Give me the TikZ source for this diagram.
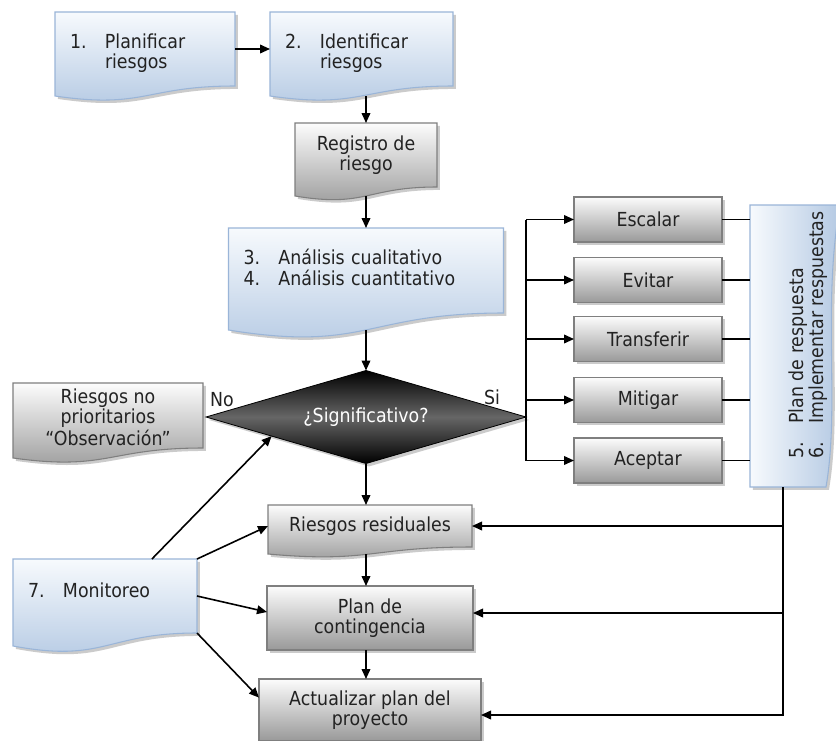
\documentclass[tikz,border=0pt]{standalone}
\usepackage{fontspec}
\setmainfont[FakeStretch=0.9]{DejaVu Sans}
\usetikzlibrary{arrows.meta,shapes.geometric,shadows,calc,backgrounds}
\definecolor{bluetop}{HTML}{F7FAFD}
\definecolor{bluebot}{HTML}{B4C9E3}
\definecolor{blueline}{HTML}{9AB5D8}
\definecolor{graytop}{HTML}{FCFCFC}
\definecolor{graybot}{HTML}{999999}
\definecolor{grayline}{HTML}{7F7F7F}
\definecolor{txt}{HTML}{222222}
\newcommand\fsz{\fontsize{14.5}{15}\selectfont}
\newcommand\docpath[3]{\path[#2] (#1.north west) -- (#1.north east) -- (#1.south east)
  .. controls (#1.south) and ($(#1.south)+(0,2.32*#3)$) .. ($(#1.south west)+(0,#3)$) -- cycle;}
\newcommand\numit[1]{\makebox[26.25pt][l]{#1}}
\tikzset{
  lbl/.style={font=\fsz, text=txt, inner sep=0pt},
  docnode/.style={rectangle, draw=none, outer sep=0pt, inner xsep=11.25pt, inner ysep=0pt, font=\fsz, text=txt},
  myshadow/.style={drop shadow={shadow xshift=2.2pt, shadow yshift=-2.2pt, fill=black!45, opacity=0.45}},
  bluefill/.style={draw=blueline, line width=0.8pt, top color=bluetop, bottom color=bluebot, myshadow},
  grayfill/.style={draw=grayline, line width=0.8pt, top color=graytop, bottom color=graybot, myshadow},
  planfill/.style={draw=blueline, line width=0.8pt, left color=bluetop, right color=bluebot, myshadow},
  grect/.style={rectangle, outer sep=0pt, grayfill, font=\fsz, text=txt, align=center, inner sep=0pt},
  arr/.style={draw=black, line width=1.2pt, -{Triangle[length=7.5pt,width=6.5pt]}},
  ln/.style={draw=black, line width=1.2pt},
}
\begin{document}
\begin{tikzpicture}[x=0.75pt,y=-0.75pt]
\useasboundingbox (0,0) rectangle (836,740);
% nodes
\node[docnode, minimum width=135pt, minimum height=55.5pt, text width=112.5pt, align=left] (n1) at (145,49)
  {\raisebox{-3.75pt}[\height][\depth]{\begin{tabular}{@{}l@{}}\numit{1.}Planificar\\\hspace*{26.25pt}riesgos\end{tabular}}};
\node[docnode, minimum width=137.25pt, minimum height=55.5pt, text width=114.75pt, align=left] (n2) at (361.5,49)
  {\raisebox{-3.75pt}[\height][\depth]{\begin{tabular}{@{}l@{}}\numit{2.}Identificar\\\hspace*{26.25pt}riesgos\end{tabular}}};
\node[docnode, minimum width=106.5pt, minimum height=48pt, align=center] (reg) at (366,155) {Registro de\\riesgo};
\node[docnode, minimum width=206.25pt, minimum height=63.75pt, text width=183.75pt, align=left] (ana) at (366,270.5)
  {\begin{tabular}{@{}l@{}}\numit{3.}Análisis cualitativo\\\numit{4.}Análisis cuantitativo\end{tabular}};
\node[diamond, minimum width=240pt, minimum height=69.75pt, shape aspect=3.44, inner sep=0pt, outer sep=0pt,
  draw=black, line width=0.6pt, top color=black, bottom color=black, middle color=black!60, myshadow,
  font=\fsz, text=white] (dia) at (366,417) {\raisebox{2pt}{¿Significativo?}};
\node[docnode, minimum width=142.5pt, minimum height=48.75pt, align=center] (nopr) at (108,415.5)
  {\raisebox{-3.4pt}[\height][\depth]{\begin{tabular}{@{}c@{}}Riesgos no\\prioritarios\\“Observación”\end{tabular}}};
\node[lbl] (no) at (222,400) {No};
\node[lbl] (si) at (492,397) {Si};
\node[grect, minimum width=111pt, minimum height=33.75pt] (esc) at (648,219.5) {Escalar};
\node[grect, minimum width=111pt, minimum height=33.75pt] (evi) at (648,280) {Evitar};
\node[grect, minimum width=111pt, minimum height=33.75pt] (tra) at (648,339) {Transferir};
\node[grect, minimum width=111pt, minimum height=33.75pt] (mit) at (648,400) {Mitigar};
\node[grect, minimum width=111pt, minimum height=33.75pt] (ace) at (648,460.5) {Aceptar};
\node[docnode, minimum width=57pt, minimum height=211.5pt] (plan) at (788,346) {};
\node[lbl, rotate=90] (plantxt) at (809,335)
  {\begin{tabular}{@{}l@{}}\numit{5.}Plan de respuesta\\\numit{6.}Implementar respuestas\end{tabular}};
\node[docnode, minimum width=153pt, minimum height=31.5pt] (rr) at (370,526) {Riesgos residuales};
\node[grect, minimum width=154.5pt, minimum height=48pt] (cont) at (370,618) {Plan de\\contingencia};
\node[grect, minimum width=166.5pt, minimum height=46.5pt] (act) at (370,710) {Actualizar plan del\\proyecto};
\node[docnode, minimum width=138pt, minimum height=55.5pt, text width=115.5pt, align=left] (mon) at (105,596)
  {\raisebox{4.5pt}[\height][\depth]{\numit{7.}Monitoreo}};
\coordinate (pc) at (783,718);
% shapes
\begin{scope}[on background layer]
  \fill[white] (0,0) rectangle (836,740);
  \docpath{n1}{bluefill}{10}
  \docpath{n2}{bluefill}{10}
  \docpath{reg}{grayfill}{9}
  \docpath{ana}{bluefill}{17}
  \docpath{nopr}{grayfill}{10}
  \docpath{rr}{grayfill}{7}
  \docpath{mon}{bluefill}{13}
  \path[planfill] (plan.north west) -- ($(plan.north east)+(14,0)$)
    .. controls ($(plan.east)+(-4,-40)$) and ($(plan.east)+(14,60)$) .. (plan.south east)
    -- (plan.south west) -- cycle;
\end{scope}
% connectors
\draw[arr] (n1.east) -- (n2.west);
\draw[arr] ($(n2.south -| reg.north)+(0,10)$) -- (reg.north);
\draw[arr] ($(reg.south)+(0,9)$) -- (reg.south |- ana.north);
\draw[arr] ($(ana.south)+(0,17)$) -- (ana.south |- dia.north);
\draw[arr] (dia.south) -- (dia.south |- rr.north);
\draw[arr] ($(rr.south -| dia.south)+(0,7)$) -- (dia.south |- cont.north);
\draw[arr] (cont.south -| dia.south) -- (dia.south |- act.north);
\draw[ln] (esc.west -| dia.east) -- (ace.west -| dia.east);
\foreach \n in {esc,evi,tra,mit,ace}{
  \draw[arr] (\n.west -| dia.east) -- (\n.west);
  \draw[ln] (\n.east) -- (\n.east -| plan.west);
}
\draw[arr] (plan.south -| pc) |- ($(act.east)+(0,5)$);
\draw[arr] (rr.east -| pc) -- (rr.east);
\draw[arr] ($(cont.east -| pc)+(0,-5)$) -- ($(cont.east)+(0,-5)$);
\draw[arr] ($(mon.north west)!0.755!(mon.north east)$) -- ($(dia.west)!0.41!(dia.south)$);
\draw[arr] (mon.north east) -- (rr.west);
\draw[arr] (mon.east) -- ($(cont.west)+(0,-6)$);
\draw[arr] (mon.south east) -- ($(act.north west)!0.3!(act.south west)$);
\end{tikzpicture}
\end{document}
